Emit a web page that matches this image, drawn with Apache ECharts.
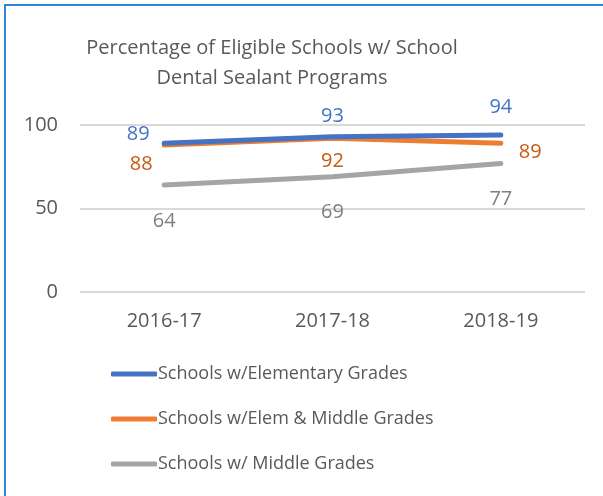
<!DOCTYPE html>
<html><head><meta charset="utf-8">
<script src="https://cdn.jsdelivr.net/npm/echarts@6/dist/echarts.min.js"></script>
<style>
html,body{margin:0;padding:0;background:#fff;}
#frame{position:absolute;left:4px;top:4px;width:602px;height:496px;border-left:2px solid #2E86D8;border-top:2px solid #2E86D8;box-sizing:border-box;}
#c{position:absolute;left:0;top:0;width:603px;height:496px;}
</style></head>
<body>
<div id="frame"></div>
<div id="c"></div>
<script>
const categories = ['2016-17', '2017-18', '2018-19'];
const elementary = [89, 93, 94];
const elemMiddle = [88, 92, 89];
const middle = [64, 69, 77];
const seriesNames = ['Schools w/Elementary Grades', 'Schools w/Elem & Middle Grades', 'Schools w/ Middle Grades'];
const yTicks = [0, 50, 100];

const FONT = 'Open Sans';
const chart = echarts.init(document.getElementById('c'), null, {renderer: 'canvas'});

function lbl(color, pos, offset) {
  return {show: true, position: pos, offset: offset, color: color, fontSize: 20, fontFamily: FONT};
}
function pts(vals, labels) {
  return vals.map((v, i) => ({value: v, label: labels[i]}));
}

chart.setOption({
  animation: false,
  title: {
    text: 'Percentage of Eligible Schools w/ School\nDental Sealant Programs',
    left: 267, textAlign: 'center', top: 28,
    textStyle: {fontFamily: FONT, fontSize: 20, fontWeight: 'normal', color: '#595959', lineHeight: 30}
  },
  grid: {left: 80, right: 18, top: 125, bottom: 204, containLabel: false},
  xAxis: {
    type: 'category', data: categories, boundaryGap: true,
    axisLine: {show: false}, axisTick: {show: false},
    axisLabel: {color: '#595959', fontSize: 20, fontFamily: FONT, margin: 19}
  },
  yAxis: {
    type: 'value', min: 0, max: 100, interval: 50,
    axisLabel: {color: '#595959', fontSize: 20, fontFamily: FONT, margin: 22},
    splitLine: {lineStyle: {color: '#D9D9D9', width: 2}},
    axisLine: {show: false}, axisTick: {show: false}
  },
  legend: {
    orient: 'vertical', left: 106, top: 360, itemWidth: 46, itemHeight: 5, itemGap: 27,
    icon: 'roundRect',
    textStyle: {color: '#595959', fontSize: 18, fontFamily: FONT, padding: [0, 0, 0, -4]},
    data: seriesNames
  },
  series: [
    {
      name: seriesNames[2], type: 'line', data: pts(middle, [
        lbl('#7F7F7F', 'bottom', [0, 20]), lbl('#7F7F7F', 'bottom', [0, 20]), lbl('#7F7F7F', 'bottom', [0, 20])]),
      symbol: 'circle', symbolSize: 2, showSymbol: true,
      lineStyle: {color: '#A5A5A5', width: 5, cap: 'round'}, itemStyle: {color: '#A5A5A5'}, z: 2
    },
    {
      name: seriesNames[1], type: 'line', data: pts(elemMiddle, [
        lbl('#C55A11', 'bottom', [-23, 3]), lbl('#C55A11', 'bottom', [0, 7]), lbl('#C55A11', 'right', [12, 9])]),
      symbol: 'circle', symbolSize: 2, showSymbol: true,
      lineStyle: {color: '#ED7D31', width: 5, cap: 'round'}, itemStyle: {color: '#ED7D31'}, z: 3
    },
    {
      name: seriesNames[0], type: 'line', data: pts(elementary, [
        lbl('#4472C4', 'top', [-26, 7]), lbl('#4472C4', 'top', [0, -4]), lbl('#4472C4', 'top', [0, -12])]),
      symbol: 'circle', symbolSize: 2, showSymbol: true,
      lineStyle: {color: '#4472C4', width: 5, cap: 'round'}, itemStyle: {color: '#4472C4'}, z: 4
    }
  ]
});
</script>
</body></html>
